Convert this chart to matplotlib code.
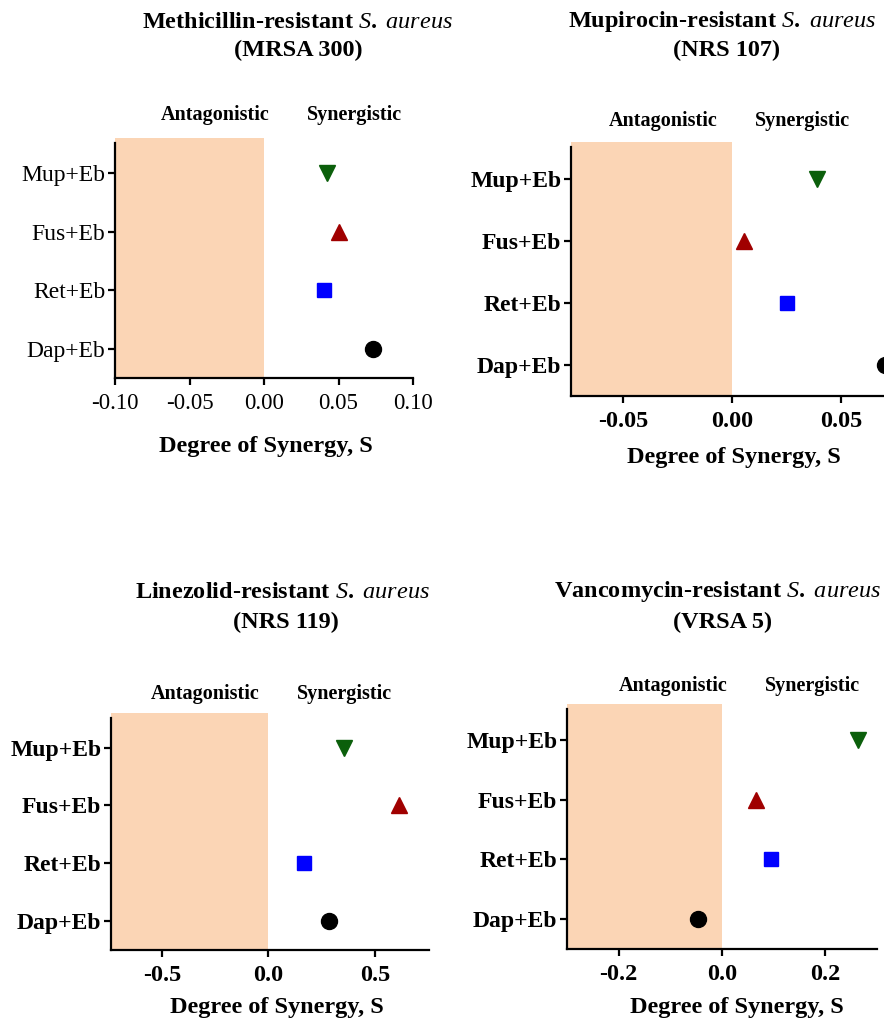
import numpy as np
import matplotlib
matplotlib.use("Agg")
import matplotlib.pyplot as plt

plt.rcParams['font.family'] = ['Liberation Serif', 'DejaVu Serif']
plt.rcParams['axes.unicode_minus'] = False
plt.rcParams['mathtext.fontset'] = 'custom'
plt.rcParams['mathtext.it'] = 'Liberation Serif:italic'
plt.rcParams['mathtext.rm'] = 'Liberation Serif:bold'

# combinations, bottom to top
combos = ['Dap+Eb', 'Ret+Eb', 'Fus+Eb', 'Mup+Eb']

# degree of synergy S (same order as combos)
s_mrsa300 = [0.073, 0.040, 0.050, 0.042]
s_nrs107 = [0.070, 0.025, 0.0055, 0.039]
s_nrs119 = [0.285, 0.168, 0.614, 0.356]
s_vrsa5 = [-0.046, 0.095, 0.066, 0.263]

strains = ['Methicillin', 'Mupirocin', 'Linezolid', 'Vancomycin']
isolates = ['(MRSA 300)', '(NRS 107)', '(NRS 119)', '(VRSA 5)']
xticks_list = [[-0.10, -0.05, 0.00, 0.05, 0.10],
               [-0.05, 0.00, 0.05],
               [-0.5, 0.0, 0.5],
               [-0.2, 0.0, 0.2]]

# styles
markers = ['o', 's', '^', 'v']
colors = ['black', '#0000FF', '#A00000', '#0B5F0B']
msizes = [11.5, 9.5, 11, 11]
shade = '#FBD5B5'

W, H = 884, 1019
fig = plt.figure(figsize=(W / 100, H / 100), dpi=100)


def px_box(l, r, t, b):
    return [l / W, 1 - b / H, (r - l) / W, (b - t) / H]


def ftext(x, y, s, **kw):
    fig.text(x / W, 1 - y / H, s, ha='center', va='center', **kw)


# panel layout in pixels: axes box, xlim, formats, text anchors
panels = [
    dict(box=(115, 413, 138, 378), xlim=(-0.10, 0.10), fmt='%.2f', bold=False,
         t1=(297, 22), t2=(298, 50), ant=(215, 115), syn=(354, 115), xl=(266, 447)),
    dict(box=(571, 896, 142, 396), xlim=(-0.074, 0.075), fmt='%.2f', bold=True,
         t1=(722, 22), t2=(727, 50), ant=(663, 121), syn=(802, 121), xl=(734, 457)),
    dict(box=(111, 429, 713, 950), xlim=(-0.74, 0.755), fmt='%.1f', bold=True,
         t1=(282, 592), t2=(286, 622), ant=(205, 694), syn=(345, 694), xl=(277, 1007)),
    dict(box=(567, 877, 704, 949), xlim=(-0.30, 0.30), fmt='%.1f', bold=True,
         t1=(718, 592), t2=(723, 622), ant=(673, 686), syn=(813, 686), xl=(737, 1008)),
]
all_s = [s_mrsa300, s_nrs107, s_nrs119, s_vrsa5]

for i, p in enumerate(panels):
    ax = fig.add_axes(px_box(*p['box']))
    y = np.arange(len(combos))
    ax.set_xlim(*p['xlim'])
    ax.set_ylim(-0.5, 3.6)
    ax.axvspan(p['xlim'][0], 0, color=shade, lw=0, zorder=0)
    for j in range(len(combos)):
        ax.plot(all_s[i][j], y[j], marker=markers[j], color=colors[j],
                ms=msizes[j], ls='none', clip_on=False, zorder=3)
    ax.spines['top'].set_visible(False)
    ax.spines['right'].set_visible(False)
    ax.spines['left'].set_bounds(-0.5, 3.52)
    for sp in ('left', 'bottom'):
        ax.spines[sp].set_linewidth(1.6)
    wt = 'bold' if p['bold'] else 'normal'
    ax.set_yticks(y)
    ax.set_yticklabels(combos, fontsize=17, fontweight=wt)
    ax.set_xticks(xticks_list[i])
    ax.set_xticklabels([p['fmt'] % v for v in xticks_list[i]],
                       fontsize=17.5 if p['bold'] else 16.5, fontweight=wt)
    ax.tick_params(axis='y', length=5, width=1.6, pad=2)
    ax.tick_params(axis='x', length=5, width=1.6, pad=6)

    ftext(*p['t1'], strains[i] + '-resistant $S.\\ aureus$', fontsize=17.5, fontweight='bold')
    ftext(*p['t2'], isolates[i], fontsize=17.5, fontweight='bold')
    ftext(*p['ant'], 'Antagonistic', fontsize=14.5, fontweight='bold')
    ftext(*p['syn'], 'Synergistic', fontsize=14.5, fontweight='bold')
    ftext(*p['xl'], 'Degree of Synergy, S', fontsize=17.5, fontweight='bold')

fig.savefig('out.png', dpi=100)
